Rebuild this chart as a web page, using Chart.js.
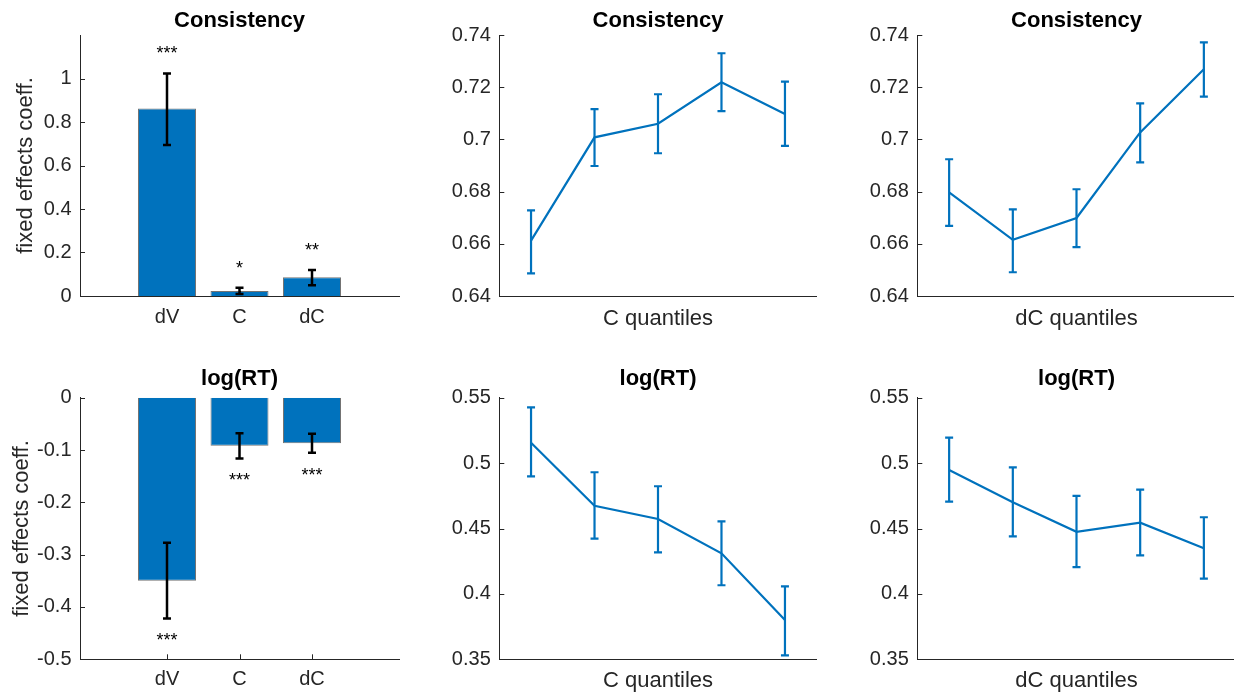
<!DOCTYPE html>
<html>
<head>
<meta charset="utf-8">
<script src="https://cdn.jsdelivr.net/npm/chart.js@4.4.1/dist/chart.umd.min.js"></script>
<style>
  html, body { margin: 0; padding: 0; background: #fff; width: 1234px; height: 694px; overflow: hidden; }
  canvas { position: absolute; }
</style>
</head>
<body>
<canvas id="coefCons"></canvas>
<canvas id="consByC"></canvas>
<canvas id="consByDC"></canvas>
<canvas id="coefRT"></canvas>
<canvas id="rtByC"></canvas>
<canvas id="rtByDC"></canvas>
<script>
// ---- data ----
const coefNames = ['dV', 'C', 'dC'];
const coefPos = [1, 2, 3];

const consCoef = [0.862, 0.023, 0.086];
const consCoefLow = [0.694, 0.009, 0.049];
const consCoefHigh = [1.023, 0.038, 0.120];
const consStars = ['***', '*', '**'];

const rtCoef = [-0.350, -0.092, -0.087];
const rtCoefLow = [-0.422, -0.116, -0.105];
const rtCoefHigh = [-0.277, -0.068, -0.069];
const rtStars = ['***', '***', '***'];

const quantiles = [1, 2, 3, 4, 5];

const consByC = [0.6612, 0.7008, 0.7060, 0.7219, 0.7097];
const consByCLow = [0.6487, 0.6898, 0.6947, 0.7108, 0.6975];
const consByCHigh = [0.6728, 0.7116, 0.7173, 0.7330, 0.7221];

const consByDC = [0.6797, 0.6615, 0.6699, 0.7027, 0.7269];
const consByDCLow = [0.6669, 0.6491, 0.6587, 0.6912, 0.7164];
const consByDCHigh = [0.6924, 0.6732, 0.6809, 0.7138, 0.7372];

const rtByC = [0.5156, 0.4674, 0.4573, 0.4310, 0.3800];
const rtByCLow = [0.4899, 0.4422, 0.4318, 0.4066, 0.3530];
const rtByCHigh = [0.5426, 0.4930, 0.4823, 0.4555, 0.4057];

const rtByDC = [0.4947, 0.4700, 0.4475, 0.4544, 0.4349];
const rtByDCLow = [0.4705, 0.4440, 0.4204, 0.4295, 0.4117];
const rtByDCHigh = [0.5194, 0.4968, 0.4749, 0.4797, 0.4586];

const coefConsTicks = [0, 0.2, 0.4, 0.6, 0.8, 1];
const coefRTTicks = [-0.5, -0.4, -0.3, -0.2, -0.1, 0];
const consTicks = [0.64, 0.66, 0.68, 0.7, 0.72, 0.74];
const rtTicks = [0.35, 0.4, 0.45, 0.5, 0.55];

// ---- styling ----
const blue = '#0072BD';
const axisColor = '#262626';
Chart.defaults.font.family = "'Liberation Sans', Arial, Helvetica, sans-serif";
Chart.defaults.font.size = 20;
Chart.defaults.color = axisColor;

function fmt(v) {
    return String(+v.toFixed(3));
}

// inward tick marks, error bars and significance stars
function makeExtras(o) {
    return {
        id: 'extras',
        beforeDatasetsDraw(chart) {
            const ctx = chart.ctx, a = chart.chartArea;
            const xs = chart.scales.x, ys = chart.scales.y;
            ctx.save();
            ctx.strokeStyle = axisColor;
            ctx.lineWidth = 1;
            ctx.beginPath();
            ys.ticks.forEach(t => {
                const p = Math.round(ys.getPixelForValue(t.value)) + 0.5;
                ctx.moveTo(a.left, p);
                ctx.lineTo(a.left + 5, p);
            });
            if (o.xTicks) {
                xs.ticks.forEach(t => {
                    const p = Math.round(xs.getPixelForValue(t.value)) + 0.5;
                    ctx.moveTo(p, a.bottom);
                    ctx.lineTo(p, a.bottom - 5);
                });
            }
            ctx.stroke();
            ctx.restore();
        },
        afterDatasetsDraw(chart) {
            const ctx = chart.ctx;
            const xs = chart.scales.x, ys = chart.scales.y;
            ctx.save();
            ctx.strokeStyle = o.color;
            ctx.lineWidth = o.width;
            ctx.lineCap = 'butt';
            o.x.forEach((xv, i) => {
                const px = xs.getPixelForValue(xv);
                const lo = ys.getPixelForValue(o.low[i]);
                const hi = ys.getPixelForValue(o.high[i]);
                ctx.beginPath();
                ctx.moveTo(px, lo); ctx.lineTo(px, hi);
                ctx.moveTo(px - o.cap, lo); ctx.lineTo(px + o.cap, lo);
                ctx.moveTo(px - o.cap, hi); ctx.lineTo(px + o.cap, hi);
                ctx.stroke();
            });
            if (o.stars) {
                ctx.fillStyle = '#000';
                ctx.font = "18px 'Liberation Sans', Arial, sans-serif";
                ctx.textAlign = 'center';
                ctx.textBaseline = 'alphabetic';
                o.x.forEach((xv, i) => {
                    const px = xs.getPixelForValue(xv);
                    const py = o.starsAbove
                        ? ys.getPixelForValue(o.high[i]) - 14
                        : ys.getPixelForValue(o.low[i]) + 28;
                    ctx.fillText(o.stars[i], px, py);
                });
            }
            ctx.restore();
        }
    };
}

function drawPanel(id, box, p) {
    const cv = document.getElementById(id);
    cv.width = box.w;
    cv.height = box.h;
    cv.style.left = box.left + 'px';
    cv.style.top = box.top + 'px';

    const isBar = p.type === 'bar';
    const points = p.x.map((xv, i) => ({ x: xv, y: p.y[i] }));

    const dataset = isBar ? {
        data: points,
        backgroundColor: blue,
        borderColor: 'rgba(0,0,0,0.55)',
        borderWidth: 1,
        barPercentage: 0.8,
        categoryPercentage: 1
    } : {
        data: points,
        borderColor: blue,
        borderWidth: 2.2,
        pointRadius: 0,
        tension: 0,
        fill: false
    };

    new Chart(cv.getContext('2d'), {
        type: p.type,
        data: { datasets: [dataset] },
        options: {
            responsive: false,
            animation: false,
            devicePixelRatio: 1,
            layout: { padding: { left: 0, right: box.padRight, top: 0, bottom: 0 } },
            plugins: {
                legend: { display: false },
                tooltip: { enabled: false },
                title: {
                    display: true,
                    fullSize: false,
                    text: p.title,
                    color: '#000',
                    font: { size: 22, weight: 'bold' },
                    padding: box.titlePad
                }
            },
            scales: {
                x: {
                    type: 'linear',
                    offset: false,
                    min: p.xMin,
                    max: p.xMax,
                    grid: { display: false, drawTicks: false, offset: false },
                    border: { display: true, color: axisColor, width: 1 },
                    afterBuildTicks: s => { s.ticks = p.x.map(v => ({ value: v })); },
                    afterFit: s => { s.height = box.xAxisH; },
                    ticks: {
                        display: !!p.xLabels,
                        padding: box.xTickPad,
                        maxRotation: 0,
                        autoSkip: false,
                        color: axisColor,
                        callback: v => p.xLabels ? p.xLabels[p.x.indexOf(v)] : ''
                    },
                    title: {
                        display: !!p.xTitle,
                        text: p.xTitle || '',
                        color: axisColor,
                        font: { size: 22 },
                        padding: { top: 0, bottom: box.xTitlePad }
                    }
                },
                y: {
                    min: p.yMin,
                    max: p.yMax,
                    grid: { display: false, drawTicks: false },
                    border: { display: true, color: axisColor, width: 1 },
                    afterBuildTicks: s => { s.ticks = p.yTicks.map(v => ({ value: v })); },
                    afterFit: s => { s.width = box.yAxisW; },
                    ticks: {
                        padding: 8.5,
                        color: axisColor,
                        callback: v => fmt(v)
                    },
                    title: {
                        display: !!p.yTitle,
                        text: p.yTitle || '',
                        color: axisColor,
                        font: { size: 22 },
                        padding: { top: box.yTitlePad, bottom: 0 }
                    }
                }
            }
        },
        plugins: [makeExtras({
            x: p.x, low: p.low, high: p.high,
            color: isBar ? '#000' : blue,
            width: isBar ? 2.5 : 2.2,
            cap: 4,
            stars: p.stars,
            starsAbove: p.starsAbove,
            xTicks: isBar
        })]
    });
}

// ---- layout (page pixels) ----
const topRow = { top: 0, h: 340, xAxisH: 44, titlePad: { top: 7.8, bottom: 0.8 }, xTitlePad: 7.5, xTickPad: 9 };
const botRow = { top: 340, h: 354, xAxisH: 34.7, titlePad: { top: 26.1, bottom: 5.2 }, xTitlePad: 0.2, xTickPad: 8.5 };
const col1 = { left: 0, w: 410, yAxisW: 80, padRight: 11 };
const col2 = { left: 410, w: 410, yAxisW: 89.3, padRight: 3.3 };
const col3 = { left: 820, w: 416, yAxisW: 97.3, padRight: 0.3 };

drawPanel('coefCons', { ...topRow, ...col1, yTitlePad: 12.8 }, {
    type: 'bar', title: 'Consistency', x: coefPos, xLabels: coefNames, xMin: -0.2, xMax: 4.2,
    y: consCoef, low: consCoefLow, high: consCoefHigh, yMin: 0, yMax: 1.2, yTicks: coefConsTicks,
    yTitle: 'fixed effects coeff.', stars: consStars, starsAbove: true
});
drawPanel('consByC', { ...topRow, ...col2 }, {
    type: 'line', title: 'Consistency', x: quantiles, xMin: 0.5, xMax: 5.5, xTitle: 'C quantiles',
    y: consByC, low: consByCLow, high: consByCHigh, yMin: 0.64, yMax: 0.74, yTicks: consTicks
});
drawPanel('consByDC', { ...topRow, ...col3 }, {
    type: 'line', title: 'Consistency', x: quantiles, xMin: 0.5, xMax: 5.5, xTitle: 'dC quantiles',
    y: consByDC, low: consByDCLow, high: consByDCHigh, yMin: 0.64, yMax: 0.74, yTicks: consTicks
});
drawPanel('coefRT', { ...botRow, ...col1, yTitlePad: 8.8 }, {
    type: 'bar', title: 'log(RT)', x: coefPos, xLabels: coefNames, xMin: -0.2, xMax: 4.2,
    y: rtCoef, low: rtCoefLow, high: rtCoefHigh, yMin: -0.5, yMax: 0, yTicks: coefRTTicks,
    yTitle: 'fixed effects coeff.', stars: rtStars, starsAbove: false
});
drawPanel('rtByC', { ...botRow, ...col2 }, {
    type: 'line', title: 'log(RT)', x: quantiles, xMin: 0.5, xMax: 5.5, xTitle: 'C quantiles',
    y: rtByC, low: rtByCLow, high: rtByCHigh, yMin: 0.35, yMax: 0.55, yTicks: rtTicks
});
drawPanel('rtByDC', { ...botRow, ...col3 }, {
    type: 'line', title: 'log(RT)', x: quantiles, xMin: 0.5, xMax: 5.5, xTitle: 'dC quantiles',
    y: rtByDC, low: rtByDCLow, high: rtByDCHigh, yMin: 0.35, yMax: 0.55, yTicks: rtTicks
});
</script>
</body>
</html>
